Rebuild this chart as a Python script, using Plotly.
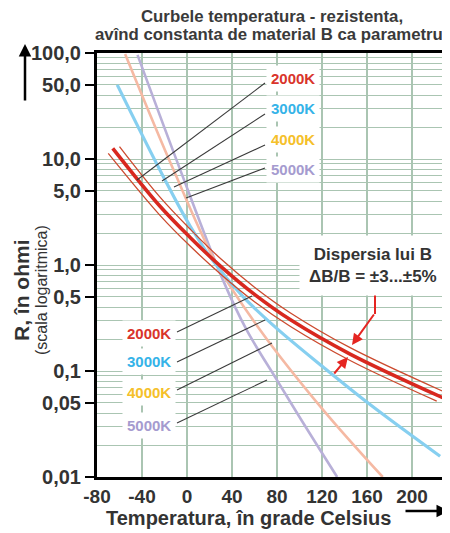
import plotly.graph_objects as go

# ---------------- data ----------------
# Temperature (deg C) and resistance (ohm, log scale) for each B constant
temp_2000 = [-66, -24, 3, 30, 60, 92, 145, 228]
res_2000 = [12.6, 3.58, 1.81, 0.97, 0.528, 0.304, 0.1445, 0.0556]

# upper / lower edge of the B-dispersion band of the 2000K curve
temp_2000_hi = [-60, -24, 3, 30, 60, 92, 145, 229]
res_2000_hi = [13.1, 4.37, 2.17, 1.145, 0.618, 0.353, 0.166, 0.0633]
temp_2000_lo = [-70, -24, 3, 30, 60, 92, 145, 222]
res_2000_lo = [11.3, 2.94, 1.50, 0.82, 0.451, 0.263, 0.1257, 0.052]

temp_3000 = [-62, -21, 3, 25, 50, 80, 121, 163, 225]
res_3000 = [50, 6.8, 2.31, 1.03, 0.50, 0.251, 0.109, 0.048, 0.0157]

temp_4000 = [-55, -12, 26, 65, 121, 174]
res_4000 = [98, 7.9, 1.04, 0.244, 0.043, 0.0100]

temp_5000 = [-44, -6, 32, 53, 80, 100, 133.5]
res_5000 = [96, 7.9, 0.72, 0.244, 0.082, 0.0368, 0.0100]

x_tick_vals = [-80, -40, 0, 40, 80, 120, 160, 200]
x_tick_text = ["-80", "-40", "0", "40", "80", "120", "160", "200"]
y_tick_vals = [100, 50, 10, 5, 1, 0.5, 0.1, 0.05, 0.01]
y_tick_text = ["100,0", "50,0", "10,0", "5,0", "1,0", "0,5", "0,1", "0,05", "0,01"]
y_minor_vals = [m * 10 ** e for e in range(-2, 2) for m in range(2, 10)]

curve_names = ["2000K", "3000K", "4000K", "5000K"]

# ---------------- geometry & style ----------------
OFF = 8                      # page body margin of the browser
W, H = 450 - OFF, 533 - OFF
ML, MR, MT, MB = 97 - OFF, 0, 53 - OFF, 533 - 477
X_RANGE = [-80, 233.8]
Y_RANGE = [-2, 2]
PW, PH = W - ML - MR, H - MT - MB

FONT = "Liberation Sans"
GRID = "#aac5b2"
TXT = "#333333"
colors = {"2000K": "#d8281f", "3000K": "#86cff0", "4000K": "#f5b9a3", "5000K": "#b8b0d8"}
label_colors = {"2000K": "#d9342b", "3000K": "#35b3e8", "4000K": "#f5c02a", "5000K": "#a59bcf"}
BAND = "#cc4a2e"
ARROW_RED = "#e52521"


def paper(px, py):
    """reference-picture pixel -> paper coordinates"""
    fx, fy = px - OFF, py - OFF
    return (fx - ML) / PW, (H - MB - fy) / PH


def data_pt(px, py):
    fx, fy = px - OFF, py - OFF
    t = X_RANGE[0] + (fx - ML) / PW * (X_RANGE[1] - X_RANGE[0])
    lr = Y_RANGE[1] - (fy - MT) / PH * (Y_RANGE[1] - Y_RANGE[0])
    return t, 10 ** lr


def text_ann(px, py, text, font, **kw):
    x, y = paper(px, py)
    d = dict(x=x, y=y, xref="paper", yref="paper", text=text, showarrow=False,
             xanchor="center", yanchor="middle", font=font)
    d.update(kw)
    return d


fig = go.Figure()

# curves (lighter ones first, red band on top)
for tx, ry, col, wd in [(temp_5000, res_5000, colors["5000K"], 2.6),
                        (temp_4000, res_4000, colors["4000K"], 2.6),
                        (temp_3000, res_3000, colors["3000K"], 3.2),
                        (temp_2000_hi, res_2000_hi, BAND, 1.3),
                        (temp_2000_lo, res_2000_lo, BAND, 1.3),
                        (temp_2000, res_2000, colors["2000K"], 3.6)]:
    fig.add_trace(go.Scatter(x=tx, y=ry, mode="lines",
                             line=dict(color=col, width=wd, shape="spline", smoothing=1.0),
                             hoverinfo="skip"))

# ---------------- labels with leader lines ----------------
upper_label_px = (293, [78, 108, 139, 169])
upper_leader_start = [(265, 83), (265, 114), (265, 145), (265, 168)]
upper_leader_end = [(137, 180), (162, 181), (174, 187), (186, 198)]
lower_label_px = (149, [333, 361, 392, 425])
lower_leader_start = [(177, 332), (177, 362), (177, 390), (177, 423)]
lower_leader_end = [(252, 296), (265, 320), (272, 343), (267, 380)]

annotations = []
for (lx, lys), starts, ends in [(upper_label_px, upper_leader_start, upper_leader_end),
                                (lower_label_px, lower_leader_start, lower_leader_end)]:
    for name, ly, s, e in zip(curve_names, lys, starts, ends):
        p0 = data_pt(*s)
        p1 = data_pt(*e)
        fig.add_trace(go.Scatter(x=[p0[0], p1[0]], y=[p0[1], p1[1]], mode="lines",
                                 line=dict(color="#3a3a3a", width=1.1), hoverinfo="skip"))
        annotations.append(text_ann(lx, ly, name,
                                    dict(family=FONT, size=15, color=label_colors[name], weight="bold"),
                                    bgcolor="white", borderpad=4))

# Dispersion text
annotations.append(text_ann(373, 265, "Dispersia lui B<br>ΔB/B = ±3...±5%",
                            dict(family=FONT, size=17, color=TXT, weight="bold"),
                            bgcolor="white", borderpad=9, align="center"))

# red arrows pointing to the band
tip1 = paper(352, 345)
annotations.append(dict(x=tip1[0], y=tip1[1], xref="paper", yref="paper", text="",
                        showarrow=True, ax=23, ay=-32, arrowhead=2, arrowsize=1.1,
                        arrowwidth=2, arrowcolor=ARROW_RED))
tip2 = paper(348, 357)
annotations.append(dict(x=tip2[0], y=tip2[1], xref="paper", yref="paper", text="",
                        showarrow=True, ax=-15, ay=18, arrowhead=2, arrowsize=1.1,
                        arrowwidth=2, arrowcolor=ARROW_RED))
s0 = paper(375, 283)
s1 = paper(375, 314)
shapes = [dict(type="line", xref="paper", yref="paper", x0=s0[0], y0=s0[1], x1=s1[0], y1=s1[1],
               line=dict(color=ARROW_RED, width=2))]

# titles
title_font = dict(family=FONT, size=16.8, color="#3a3a3a", weight="bold")
annotations.append(text_ann(272, 17, "Curbele temperatura - rezistenta,", title_font))
annotations.append(text_ann(269, 35, "avînd constanta de material B ca parametru", title_font))

# axis titles
annotations.append(text_ann(248, 518, "Temperatura, în grade Celsius",
                            dict(family=FONT, size=20, color=TXT, weight="bold")))
annotations.append(text_ann(21, 290, "R, în ohmi",
                            dict(family=FONT, size=21, color=TXT, weight="bold"), textangle=-90))
annotations.append(text_ann(41, 290, "(scala logaritmica)",
                            dict(family=FONT, size=16, color=TXT), textangle=-90))

# axis arrows
ya = paper(25, 44)
annotations.append(dict(x=ya[0], y=ya[1], xref="paper", yref="paper", text="",
                        showarrow=True, ax=0, ay=58, arrowhead=2, arrowsize=1,
                        arrowwidth=2.5, arrowcolor="black"))
xa = paper(449, 511)
annotations.append(dict(x=xa[0], y=xa[1], xref="paper", yref="paper", text="",
                        showarrow=True, ax=-45, ay=0, arrowhead=2, arrowsize=1,
                        arrowwidth=2.5, arrowcolor="black"))

fig.update_layout(
    width=W, height=H,
    margin=dict(l=ML, r=MR, t=MT, b=MB, autoexpand=False),
    plot_bgcolor="white", paper_bgcolor="white",
    showlegend=False,
    annotations=annotations,
    shapes=shapes,
    xaxis=dict(range=X_RANGE, tickmode="array", tickvals=x_tick_vals, ticktext=x_tick_text,
               showgrid=True, gridcolor=GRID, gridwidth=2, zeroline=False,
               showline=True, linecolor="black", linewidth=3, mirror=True,
               ticks="", automargin=False,
               tickfont=dict(family=FONT, size=19, color=TXT, weight="bold")),
    yaxis=dict(type="log", range=Y_RANGE, tickmode="array", tickvals=y_tick_vals,
               ticktext=y_tick_text, ticks="outside", ticklen=9, tickwidth=2, tickcolor="black",
               showgrid=True, gridcolor=GRID, gridwidth=1.4, zeroline=False, automargin=False,
               minor=dict(tickmode="array", tickvals=y_minor_vals, showgrid=True,
                          gridcolor=GRID, gridwidth=1.2, ticks=""),
               showline=True, linecolor="black", linewidth=3,
               tickfont=dict(family=FONT, size=20, color=TXT, weight="bold")),
)

fig.write_html("out.html")
